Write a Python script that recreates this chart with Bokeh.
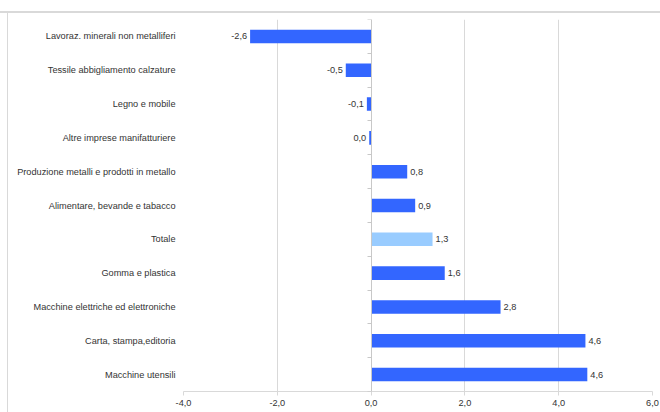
from bokeh.plotting import figure
from bokeh.models import (ColumnDataSource, Range1d, LinearAxis, FixedTicker)
from bokeh.embed import file_html
from bokeh.resources import INLINE

# ---- data ----
categories = [
    "Lavoraz. minerali non metalliferi",
    "Tessile abbigliamento calzature",
    "Legno e mobile",
    "Altre imprese manifatturiere",
    "Produzione metalli e prodotti in metallo",
    "Alimentare, bevande e tabacco",
    "Totale",
    "Gomma e plastica",
    "Macchine elettriche ed elettroniche",
    "Carta, stampa,editoria",
    "Macchine utensili",
]
values = [-2.58, -0.54, -0.09, -0.04, 0.77, 0.94, 1.31, 1.57, 2.76, 4.57, 4.61]
highlight = "Totale"
x_ticks = [-4, -2, 0, 2, 4, 6]
x_tick_labels = ["-4,0", "-2,0", "0,0", "2,0", "4,0", "6,0"]

BLUE = "#3366FF"
LIGHT = "#99CCFF"
GRID = "#d9d9d9"
TXT = "#333333"
FONT = "Liberation Sans"
FS = "9.2px"


def fmt(v):
    s = f"{v:.1f}"
    if s == "-0.0":
        s = "0.0"
    return s.replace(".", ",")


n = len(categories)
ypos = [n - i - 0.5 for i in range(n)]   # first category at the top
colors = [LIGHT if c == highlight else BLUE for c in categories]
src = ColumnDataSource(dict(y=ypos, val=values, color=colors))

pos_idx = [i for i, v in enumerate(values) if v >= 0]
neg_idx = [i for i, v in enumerate(values) if v < 0]
src_pos = ColumnDataSource(dict(y=[ypos[i] for i in pos_idx],
                                val=[values[i] for i in pos_idx],
                                lab=[fmt(values[i]) for i in pos_idx]))
src_neg = ColumnDataSource(dict(y=[ypos[i] for i in neg_idx],
                                val=[values[i] for i in neg_idx],
                                lab=[fmt(values[i]) for i in neg_idx]))

p = figure(width=660, height=412, output_backend="svg", toolbar_location=None,
           y_range=Range1d(0, n),
           x_range=Range1d(x_ticks[0], x_ticks[-1]),
           min_border_left=183, min_border_right=8, min_border_top=19,
           min_border_bottom=21)
p.outline_line_color = None
p.background_fill_color = "white"
p.border_fill_color = None
# outer chart-area border (top and left edges visible in the crop)
p.styles = {
    "background": ("linear-gradient(#d9d9d9, #d9d9d9) 0px 11px / 100% 2px no-repeat, "
                   "linear-gradient(#d9d9d9, #d9d9d9) 7px 11px / 1px 100% no-repeat, "
                   "white"),
}

p.hbar(y="y", left=0, right="val", height=0.4, fill_color="color",
       line_color=None, source=src)

p.text(x="val", y="y", text="lab", source=src_pos, text_align="left",
       text_baseline="middle", x_offset=3, text_font_size=FS,
       text_color=TXT, text_font={"value": FONT})
p.text(x="val", y="y", text="lab", source=src_neg, text_align="right",
       text_baseline="middle", x_offset=-3, text_font_size=FS,
       text_color=TXT, text_font={"value": FONT})

# grid
p.ygrid.grid_line_color = None
p.xgrid.ticker = FixedTicker(ticks=x_ticks)
p.xgrid.grid_line_color = GRID

# bottom axis
xa = p.xaxis[0]
xa.ticker = FixedTicker(ticks=x_ticks)
xa.major_label_overrides = {t: l for t, l in zip(x_ticks, x_tick_labels)}
xa.axis_line_color = GRID
xa.major_tick_line_color = GRID
xa.major_tick_out = 4
xa.major_tick_in = 0
xa.minor_tick_line_color = None
xa.major_label_standoff = 4
xa.major_label_text_font = FONT
xa.major_label_text_font_size = FS
xa.major_label_text_color = TXT

# left category labels
ya = p.yaxis[0]
ya.ticker = FixedTicker(ticks=ypos)
ya.major_label_overrides = {y: c for y, c in zip(ypos, categories)}
ya.axis_line_color = None
ya.major_tick_line_color = None
ya.minor_tick_line_color = None
ya.major_tick_out = 0
ya.major_tick_in = 0
ya.major_label_standoff = 8
ya.major_label_text_font = FONT
ya.major_label_text_font_size = FS
ya.major_label_text_color = TXT

# vertical axis through zero with ticks between categories
za = LinearAxis(fixed_location=0,
                ticker=FixedTicker(ticks=list(range(n + 1))))
za.axis_line_color = "#c8c8c8"
za.major_tick_line_color = "#c8c8c8"
za.major_tick_out = 4
za.major_tick_in = 0
za.minor_tick_line_color = None
za.major_label_text_font_size = "0px"
za.major_label_text_color = None
p.add_layout(za, "left")

open("out.html", "w").write(file_html(p, INLINE))
